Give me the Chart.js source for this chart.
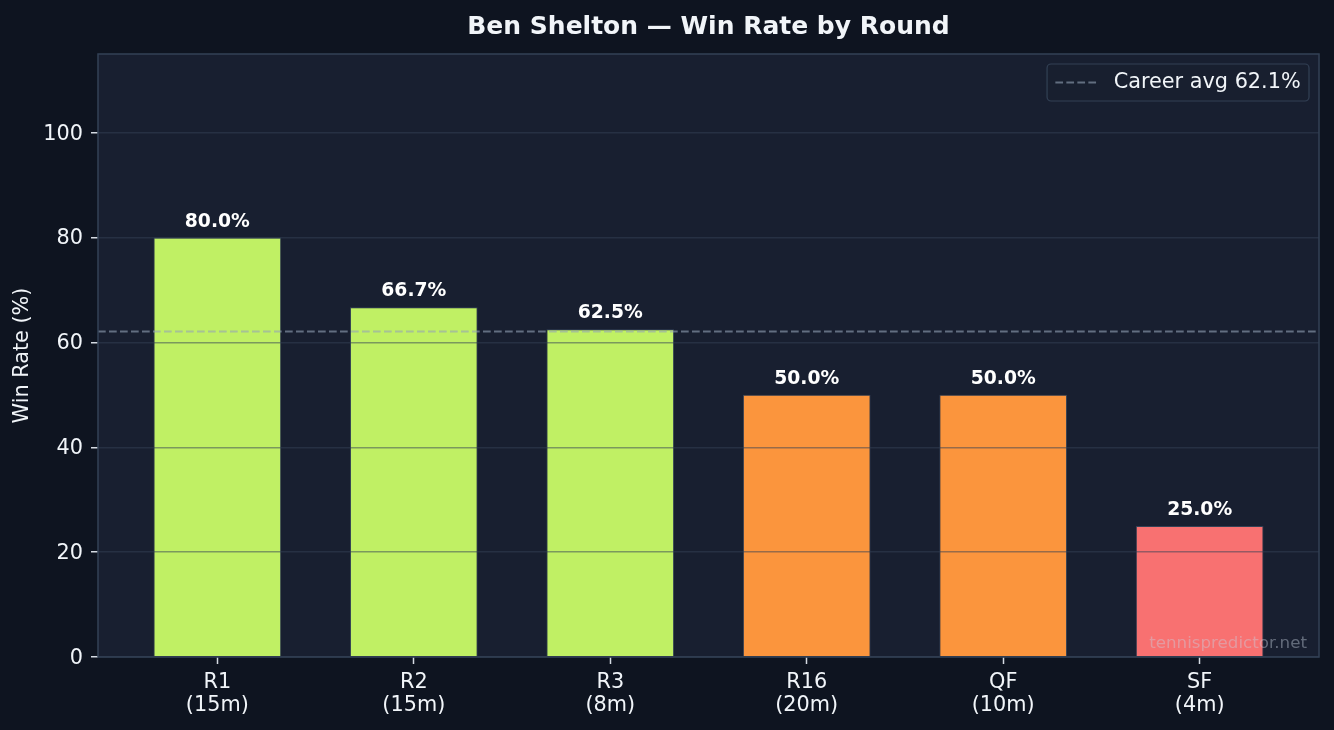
<!DOCTYPE html>
<html>
<head>
<meta charset="utf-8">
<script src="https://cdn.jsdelivr.net/npm/chart.js@4.4.1/dist/chart.umd.min.js"></script>
<style>
  html, body { margin: 0; padding: 0; background: #0e1420; }
  #wrap { width: 1334px; height: 730px; position: relative; }
</style>
</head>
<body>
<div id="wrap"><canvas id="c"></canvas></div>
<script>
// ---- data ----
const rounds = ['R1', 'R2', 'R3', 'R16', 'QF', 'SF'];
const matchCounts = [15, 15, 8, 20, 10, 4];
const winRates = [80.0, 66.7, 62.5, 50.0, 50.0, 25.0];
const careerAvg = 62.1;
const yTicks = [0, 20, 40, 60, 80, 100];
const titleText = 'Ben Shelton — Win Rate by Round';
const yAxisTitle = 'Win Rate (%)';
const watermarkText = 'tennispredictor.net';

// ---- style ----
const FONT = "'DejaVu Sans', 'Liberation Sans', sans-serif";
const FIG_BG = '#0e1420';
const PLOT_BG = '#181f30';
const SPINE = '#334155';
const TEXT = '#f1f5f9';
const AVG_COLOR = 'rgba(148,163,184,0.6)';
const AVG_DASH = [7.7, 3.3];
const FS = 20.8;

const BAR_W = 0.65, MARGIN = 0.05;
const span = (rounds.length - 1) + BAR_W;
const xMin = -BAR_W / 2 - MARGIN * span;
const xMax = (rounds.length - 1) + BAR_W / 2 + MARGIN * span;

function barColor(v) {
  if (v >= 60) return '#c0f064';
  if (v >= 40) return '#fb953d';
  return '#f87171';
}

const decor = {
  id: 'decor',
  beforeDraw(chart) {
    const { ctx, chartArea: a } = chart;
    ctx.save();
    ctx.fillStyle = FIG_BG;
    ctx.fillRect(0, 0, chart.width, chart.height);
    ctx.fillStyle = PLOT_BG;
    ctx.fillRect(a.left, a.top, a.right - a.left, a.bottom - a.top);
    ctx.restore();
  },
  afterDraw(chart) {
    const { ctx, chartArea: a } = chart;
    ctx.save();
    // watermark
    ctx.font = `16.7px ${FONT}`;
    ctx.fillStyle = 'rgba(200,210,225,0.42)';
    ctx.textAlign = 'right';
    ctx.textBaseline = 'alphabetic';
    ctx.fillText(watermarkText, a.right - 12, a.bottom - 9);

    // value labels
    const meta = chart.getDatasetMeta(1);
    ctx.font = `bold 18.75px ${FONT}`;
    ctx.fillStyle = '#ffffff';
    ctx.textAlign = 'center';
    meta.data.forEach((bar, i) => {
      ctx.fillText(winRates[i].toFixed(1) + '%', bar.x, bar.y - 11);
    });

    // spines
    ctx.strokeStyle = SPINE;
    ctx.lineWidth = 1.5;
    ctx.strokeRect(a.left, a.top, a.right - a.left, a.bottom - a.top);

    // legend
    const label = 'Career avg ' + careerAvg.toFixed(1) + '%';
    ctx.font = `${FS}px ${FONT}`;
    const tw = ctx.measureText(label).width;
    const pad = 8.3, handle = 41.6, gap = 16.7;
    const w = pad + handle + gap + tw + pad;
    const h = 37;
    const bx = a.right - 10 - w, by = a.top + 10;
    ctx.beginPath();
    ctx.roundRect(bx, by, w, h, 4);
    ctx.fillStyle = 'rgba(24,31,48,0.9)';
    ctx.fill();
    ctx.strokeStyle = SPINE;
    ctx.lineWidth = 1.2;
    ctx.stroke();
    const cy = by + h / 2;
    ctx.beginPath();
    ctx.setLineDash(AVG_DASH);
    ctx.strokeStyle = AVG_COLOR;
    ctx.lineWidth = 2;
    ctx.moveTo(bx + pad, cy);
    ctx.lineTo(bx + pad + handle, cy);
    ctx.stroke();
    ctx.setLineDash([]);
    ctx.fillStyle = TEXT;
    ctx.textAlign = 'left';
    ctx.textBaseline = 'middle';
    ctx.fillText(label, bx + pad + handle + gap, cy);
    ctx.restore();
  }
};

new Chart(document.getElementById('c'), {
  type: 'bar',
  data: {
    datasets: [
      {
        type: 'line',
        label: 'Career avg',
        data: [{ x: xMin, y: careerAvg }, { x: xMax, y: careerAvg }],
        borderColor: AVG_COLOR,
        borderWidth: 2,
        borderDash: AVG_DASH,
        pointRadius: 0,
        fill: false,
        order: 0
      },
      {
        type: 'bar',
        label: 'Win Rate',
        data: rounds.map((r, i) => ({ x: i, y: winRates[i] })),
        backgroundColor: winRates.map(barColor),
        borderColor: SPINE,
        borderWidth: 1,
        barPercentage: BAR_W,
        categoryPercentage: 1,
        order: 1
      }
    ]
  },
  options: {
    responsive: true,
    maintainAspectRatio: false,
    animation: false,
    layout: { padding: { left: 0, right: 15, top: 0, bottom: 0 } },
    plugins: {
      legend: { display: false },
      tooltip: { enabled: false },
      title: {
        display: true,
        text: titleText,
        fullSize: false,
        color: TEXT,
        font: { family: FONT, size: 25, weight: 'bold', lineHeight: 1.2 },
        padding: { top: 12, bottom: 12 }
      }
    },
    scales: {
      x: {
        type: 'linear',
        min: xMin,
        max: xMax,
        offset: false,
        afterBuildTicks: (s) => { s.ticks = rounds.map((r, i) => ({ value: i })); },
        afterFit: (s) => { s.height = 73; },
        grid: { display: true, offset: false, drawOnChartArea: false, drawTicks: true, tickLength: 7, tickColor: '#d5dbe3', tickWidth: 1.5 },
        border: { display: false },
        ticks: {
          autoSkip: false,
          maxRotation: 0,
          padding: 7,
          color: TEXT,
          font: { family: FONT, size: FS, lineHeight: 1.1 },
          callback: (v) => [rounds[v], '(' + matchCounts[v] + 'm)']
        }
      },
      y: {
        min: 0,
        max: 115,
        afterBuildTicks: (s) => { s.ticks = yTicks.map(v => ({ value: v })); },
        afterFit: (s) => { s.width = 98; },
        grid: { z: 1, color: 'rgba(51,65,85,0.5)', lineWidth: 1.5, drawTicks: true, tickLength: 7, tickColor: '#d5dbe3', tickWidth: 1.5 },
        border: { display: false },
        ticks: {
          padding: 8,
          labelOffset: 1.5,
          color: TEXT,
          font: { family: FONT, size: FS }
        },
        title: {
          display: true,
          text: yAxisTitle,
          color: TEXT,
          font: { family: FONT, size: FS, lineHeight: 1.2 },
          padding: { top: 10, bottom: 0 }
        }
      }
    }
  },
  plugins: [decor]
});
</script>
</body>
</html>
